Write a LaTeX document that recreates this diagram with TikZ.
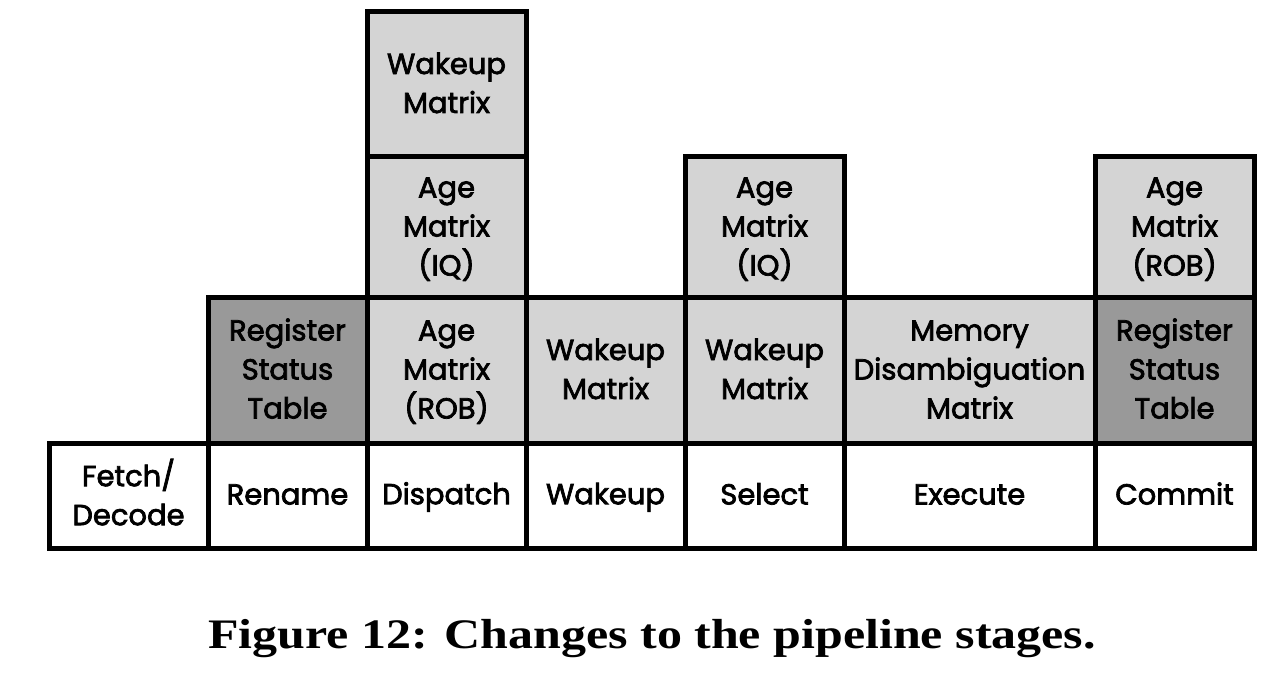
\documentclass[tikz,border=0pt]{standalone}
\usepackage{fontspec}
\setmainfont{Poppins}
\newfontfamily\cellfont{Poppins}[FakeBold=2.5]
\newfontfamily\capfont{Liberation Serif}
\definecolor{lightcell}{HTML}{D4D4D4}
\definecolor{darkcell}{HTML}{999999}
\newcommand\cs{\rule[-7pt]{0pt}{32pt}}
\begin{document}
\begin{tikzpicture}[x=1pt,y=-1pt,
  cell/.style={draw=black, line width=5pt, minimum width=#1, minimum height=0pt, inner sep=0pt, outer sep=0pt, align=center,
    font=\cellfont\fontsize{29}{39}\selectfont},
  light/.style={fill=lightcell},
  dark/.style={fill=darkcell},
  white/.style={fill=white}]
\useasboundingbox (0,0) rectangle (1276,684);
\newcommand\pcell[7]{% name, style, x1, y1, x2, y2, text
  \node[cell=#5-#3, #2, minimum height={#6-#4}] (#1) at ({(#3+#5)/2},{(#4+#6)/2}) {#7};}
% row 4
\pcell{wm1}{light}{367}{12}{526}{157}{\cs Wakeup\\\cs Matrix}
% row 3
\pcell{aiq1}{light}{367}{157}{526}{298}{\cs Age\\\cs Matrix\\\cs (IQ)}
\pcell{aiq2}{light}{685}{157}{844}{298}{\cs Age\\\cs Matrix\\\cs (IQ)}
\pcell{arob2}{light}{1095}{157}{1254}{298}{\cs Age\\\cs Matrix\\\cs (ROB)}
% row 2
\pcell{rst1}{dark}{208}{298}{367}{443}{\cs Register\\\cs Status\\\cs Table}
\pcell{arob1}{light}{367}{298}{526}{443}{\cs Age\\\cs Matrix\\\cs (ROB)}
\pcell{wm2}{light}{526}{298}{685}{443}{\cs Wakeup\\\cs Matrix}
\pcell{wm3}{light}{685}{298}{844}{443}{\cs Wakeup\\\cs Matrix}
\pcell{mdm}{light}{844}{298}{1095}{443}{\cs Memory\\\cs Disambiguation\\\cs Matrix}
\pcell{rst2}{dark}{1095}{298}{1254}{443}{\cs Register\\\cs Status\\\cs Table}
% row 1
\pcell{fd}{white}{49}{443}{208}{548}{\cs Fetch/\\\cs Decode}
\pcell{ren}{white}{208}{443}{367}{548}{\cs Rename}
\pcell{dis}{white}{367}{443}{526}{548}{\cs Dispatch}
\pcell{wak}{white}{526}{443}{685}{548}{\cs Wakeup}
\pcell{sel}{white}{685}{443}{844}{548}{\cs Select}
\pcell{exe}{white}{844}{443}{1095}{548}{\cs Execute}
\pcell{com}{white}{1095}{443}{1254}{548}{\cs Commit}
% caption
\node[anchor=base, inner sep=0pt, font=\capfont\bfseries\fontsize{42}{50}\selectfont] (cap) at (652,648) {\scalebox{1.19}[1]{Figure 12: Changes to the pipeline stages.}};
\end{tikzpicture}
\end{document}
